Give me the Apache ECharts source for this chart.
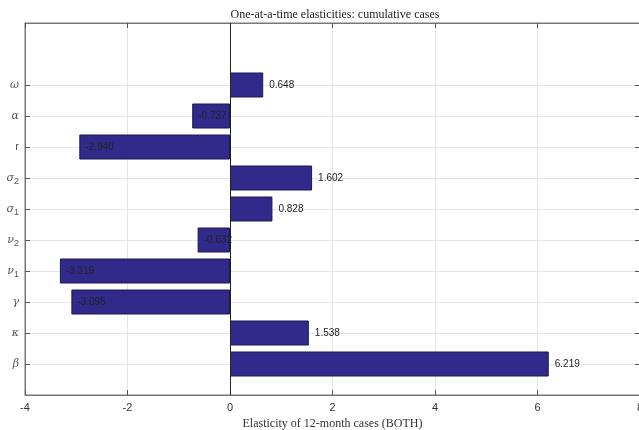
<!DOCTYPE html>
<html>
<head>
<meta charset="utf-8">
<script src="https://cdn.jsdelivr.net/npm/echarts@6/dist/echarts.min.js"></script>
<style>
  html, body { margin: 0; padding: 0; background: #fff; }
  #chart { width: 639px; height: 430px; }
</style>
</head>
<body>
<div id="chart"></div>
<script>
// parameters, bottom to top
var params = ['β', 'κ', 'γ', 'ν_1', 'ν_2', 'σ_1', 'σ_2', 'r', 'α', 'ω'];
var elasticity = [6.219, 1.538, -3.095, -3.319, -0.632, 0.828, 1.602, -2.940, -0.737, 0.648];
var xTicks = [-4, -2, 0, 2, 4, 6, 8];

// pad one empty slot below and two above (like ylim [0 12])
var cats = [''].concat(params, ['', '']);
var barData = [null].concat(elasticity.map(function (v) {
  return {
    value: v,
    label: v >= 0
      ? { position: 'right', distance: 6 }
      : { position: 'insideLeft', distance: 6 }
  };
}), [null, null]);

var chart = echarts.init(document.getElementById('chart'));

var onTick = function (idx) { return idx >= 1 && idx <= params.length; };
var tickStyle = { show: true, inside: true, length: 5, lineStyle: { color: '#555' } };

chart.setOption({
  animation: false,
  title: {
    text: 'One-at-a-time elasticities: cumulative cases',
    left: 330,
    textAlign: 'center',
    top: 4,
    textStyle: { fontFamily: 'Liberation Serif', fontWeight: 'normal', fontSize: 12, color: '#222' }
  },
  grid: {
    left: 25, top: 23, width: 615, height: 372,
    outerBoundsMode: 'none',
    containLabel: false,
    show: true, borderColor: '#777', borderWidth: 1
  },
  xAxis: [{
    type: 'value',
    min: xTicks[0], max: xTicks[xTicks.length - 1], interval: 2,
    name: 'Elasticity of 12-month cases (BOTH)',
    nameLocation: 'middle',
    nameGap: 19,
    nameTextStyle: { fontFamily: 'Liberation Serif', fontSize: 12, color: '#333' },
    axisLine: { show: true, onZero: false, lineStyle: { color: '#777' } },
    axisTick: tickStyle,
    axisLabel: { margin: 7, fontFamily: 'Liberation Sans', fontSize: 11, color: '#333' },
    splitLine: { show: true, lineStyle: { color: '#e6e6e6' } }
  }, {
    type: 'value', position: 'top',
    min: xTicks[0], max: xTicks[xTicks.length - 1], interval: 2,
    axisLine: { show: true, onZero: false, lineStyle: { color: '#777' } },
    axisTick: tickStyle,
    axisLabel: { show: false },
    splitLine: { show: false }
  }],
  yAxis: [{
    type: 'category',
    data: cats,
    boundaryGap: false,
    axisLine: { show: true, onZero: false, lineStyle: { color: '#777' } },
    axisTick: { show: true, inside: true, length: 5, interval: onTick, lineStyle: { color: '#555' } },
    splitLine: { show: true, interval: onTick, lineStyle: { color: '#e6e6e6' } },
    axisLabel: {
      margin: 6,
      interval: 0,
      formatter: function (name) {
        if (!name) return '';
        if (name === 'r') return '{n|r}';
        var p = name.split('_');
        return p.length > 1 ? '{g|' + p[0] + '}{s|' + p[1] + '}' : '{g|' + name + '}';
      },
      rich: {
        g: { fontFamily: 'DejaVu Serif', fontStyle: 'italic', fontSize: 11, color: '#555' },
        s: { fontFamily: 'Liberation Sans', fontSize: 9, color: '#555', padding: [8, 0, 0, 0] },
        n: { fontFamily: 'Liberation Sans', fontSize: 11, color: '#555' }
      }
    }
  }, {
    type: 'category',
    data: cats,
    boundaryGap: false,
    position: 'right',
    axisLine: { show: true, onZero: false, lineStyle: { color: '#777' } },
    axisTick: { show: true, inside: true, length: 5, interval: onTick, lineStyle: { color: '#555' } },
    axisLabel: { show: false },
    splitLine: { show: false }
  }],
  series: [{
    type: 'bar',
    data: barData,
    barWidth: 25,
    itemStyle: { color: '#322a8a', borderColor: '#1c1850', borderWidth: 1 },
    label: {
      show: true,
      fontFamily: 'Liberation Sans',
      fontSize: 10,
      color: '#222',
      formatter: function (p) { return p.value.toFixed(3); }
    },
    markLine: {
      silent: true,
      symbol: 'none',
      label: { show: false },
      lineStyle: { color: '#222', type: 'solid', width: 1 },
      data: [{ xAxis: 0 }]
    }
  }]
});
</script>
</body>
</html>
